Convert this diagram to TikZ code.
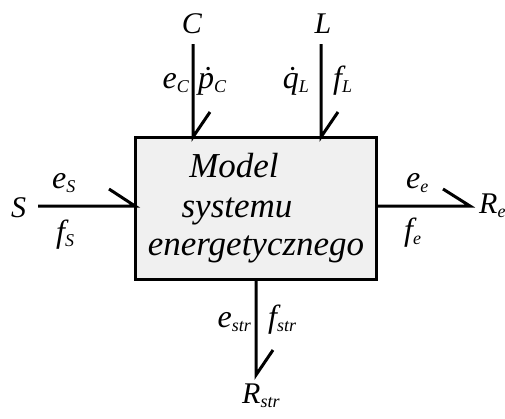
\documentclass[tikz,border=0pt]{standalone}
\usepackage{fontspec}
\setmainfont{Liberation Serif}
\newcommand\sbx[1]{\raisebox{-0.3ex}{\fontsize{18}{19}\selectfont #1}}
\newcommand\dt[1]{\accent"02D9 #1}
\tikzset{
  bond/.style={line width=3pt},
  elab/.style={font=\fontsize{30}{32}\selectfont\itshape, inner sep=0pt},
  lbl/.style={font=\fontsize{32}{34}\selectfont\itshape, inner sep=0pt},
  boxtxt/.style={font=\fontsize{35}{38}\selectfont\itshape, inner sep=0pt, anchor=base},
}
\begin{document}
\begin{tikzpicture}[x=1pt,y=-1pt]
\useasboundingbox (0,0) rectangle (505,418);
% main block
\node[draw, line width=3pt, fill=gray!12, minimum width=241pt, minimum height=142pt,
      inner sep=0pt, outer sep=0pt, anchor=north west] (box) at (135,137) {};
\node[boxtxt] (t1) at (234,177) {Model};
\node[boxtxt] (t2) at (237,217) {systemu};
\node[boxtxt] (t3) at (256,255) {energetycznego};
% element labels
\node[elab, anchor=base] (C) at (192,33) {C};
\node[elab, anchor=base] (L) at (323,33) {L};
\node[elab, anchor=base west] (S) at (11,217) {S};
\node[elab, anchor=base west] (R) at (479,213) {R\sbx{e}};
\node[elab, anchor=base west] (Rs) at (242,403) {R\sbx{str}};
% effort / flow labels
\node[lbl, anchor=base east] (eC) at (189,88) {e\sbx{C}};
\node[lbl, anchor=base west] (pC) at (198,88) {\dt{p}\sbx{C}};
\node[lbl, anchor=base east] (qL) at (309,88) {\dt{q}\sbx{L}};
\node[lbl, anchor=base west] (fL) at (333,88) {f\sbx{L}};
\node[lbl, anchor=base west] (eS) at (52,188) {e\sbx{S}};
\node[lbl, anchor=base west] (fS) at (56,242) {f\sbx{S}};
\node[lbl, anchor=base west] (ee) at (406,188) {e\sbx{e}};
\node[lbl, anchor=base west] (fe) at (404,240) {f\sbx{e}};
\node[lbl, anchor=base east] (es) at (251,327) {e\sbx{str}};
\node[lbl, anchor=base west] (fs) at (268,327) {f\sbx{str}};
% bond ends
\coordinate (Cend) at (193,44);
\coordinate (Lend) at (321,44);
\coordinate (Send) at (38,206);
\coordinate (Rend) at (470,206);
\coordinate (Bend) at (256,375);
% bonds with half arrows
\draw[bond] (Cend) -- (Cend |- box.north) -- ++(17,-25);
\draw[bond] (Lend) -- (Lend |- box.north) -- ++(17,-25);
\draw[bond] (Send) -- (box.west |- Send) -- ++(-26,-17);
\draw[bond] (box.east |- Rend) -- (Rend) -- ++(-27,-17);
\draw[bond] (box.south -| Bend) -- (Bend) -- ++(17,-25);
\end{tikzpicture}
\end{document}
